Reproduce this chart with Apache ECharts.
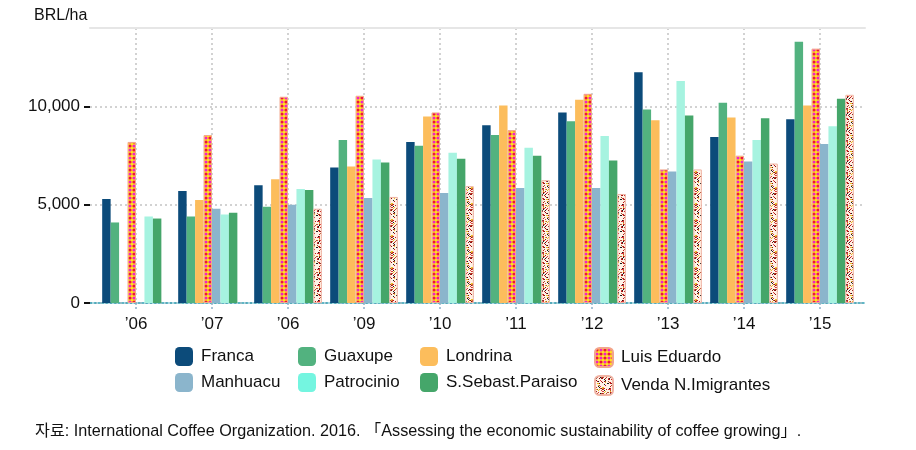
<!DOCTYPE html>
<html>
<head>
<meta charset="utf-8">
<script src="https://cdn.jsdelivr.net/npm/echarts@6/dist/echarts.min.js"></script>
<style>html,body{margin:0;padding:0;background:#fff}#c{width:916px;height:450px}</style>
</head>
<body>
<div id="c"></div>
<script>
const categories = ["\u201906","\u201907","\u201906","\u201909","\u201910","\u201911","\u201912","\u201913","\u201914","\u201915"];
const franca     = [5300,5700,6000,6900,8200,9050,9700,11750,8450,9350];
const guaxupe    = [4100,4400,4900,8300,8000,8550,9250,9850,10200,13300];
const londrina   = [null,5250,6300,6950,9500,10050,10350,9300,9450,10050];
const luis       = [8200,8550,10500,10550,9700,8800,10650,6800,7500,12950];
const manhuacu   = [null,4800,5000,5350,5600,5850,5850,6700,7200,8100];
const patrocinio = [4400,4500,5800,7300,7650,7900,8500,11300,8300,9000];
const sebast     = [4300,4600,5750,7150,7350,7500,7250,9550,9400,10400];
const venda      = [null,null,4800,5400,5950,6250,5550,6800,7100,10600];
const yTicks = [0,5000,10000];
const yName = "BRL/ha";
const source = "\uC790\uB8CC: International Coffee Organization. 2016. \u300CAssessing the economic sustainability of coffee growing\u300D.";

const FONT = 'Arial, "Liberation Sans", "Noto Sans CJK KR", sans-serif';

function luisPattern(){
  const c = document.createElement('canvas'); c.width = 8; c.height = 8;
  const g = c.getContext('2d');
  g.fillStyle = '#ffe61e'; g.fillRect(0,0,8,8);
  const dots = [[2,2,'#ee1040'],[6,2,'#f020c8'],[2,6,'#f020c8'],[6,6,'#ee1040']];
  dots.forEach(d=>{g.fillStyle=d[2]; g.beginPath(); g.arc(d[0],d[1],1.6,0,Math.PI*2); g.fill();});
  return {image:c, repeat:'repeat'};
}
function vendaPattern(){
  const c = document.createElement('canvas'); c.width = 16; c.height = 16;
  const g = c.getContext('2d');
  g.fillStyle = '#fff2e6'; g.fillRect(0,0,16,16);
  const cols = ['#8a1010','#1a1a1a','#e8c020','#d83a3a','#b05030','#c01818'];
  let s = 12345;
  function nx(){ s = (s*1103515245 + 12345) & 0x7fffffff; return s >>> 12; }
  for (let i=0;i<120;i++){
    const x = nx() % 16, y = nx() % 16;
    g.fillStyle = cols[nx() % cols.length];
    g.fillRect(x,y,1,1);
  }
  return {image:c, repeat:'repeat'};
}

const seriesDefs = [
  {name:'Franca', data:franca, color:'#0c4b7a'},
  {name:'Guaxupe', data:guaxupe, color:'#52b27f'},
  {name:'Londrina', data:londrina, color:'#fcbd5c'},
  {name:'Luis Eduardo', data:luis, color:luisPattern(), border:'#f3a58c'},
  {name:'Manhuacu', data:manhuacu, color:'#8bb5cc'},
  {name:'Patrocinio', data:patrocinio, color:'#a6f3e0', legendColor:'#74f5e0'},
  {name:'S.Sebast.Paraiso', data:sebast, color:'#45a66a'},
  {name:'Venda N.Imigrantes', data:venda, color:vendaPattern(), border:'#f0b4a4'}
];

const series = seriesDefs.map(d => ({
  type:'bar', name:d.name, data:d.data, xAxisIndex:2, yAxisIndex:1,
  barGap:'0%', barCategoryGap:'11%',
  itemStyle:{color:d.color, borderColor:d.border||null, borderWidth:d.border?1:0},
  emphasis:{disabled:true}
}));

function legendCol(names, left){
  return {
    orient:'vertical', left:left, top:342, itemWidth:18, itemHeight:19, itemGap:7,
    selectedMode:false,
    textStyle:{fontFamily:FONT, fontSize:17, color:'#111', padding:[0,0,0,3]},
    data:names.map(n=>{
      const d = seriesDefs.find(s=>s.name===n);
      return d.legendColor ? {name:n, itemStyle:{color:d.legendColor}} : {name:n};
    })
  };
}

const option = {
  animation:false,
  textStyle:{fontFamily:FONT},
  grid:[
    {left:90, right:51, top:28, bottom:147},
    {left:98, right:58, top:28, bottom:147}
  ],
  xAxis:[
    {gridIndex:0, type:'value', min:0, max:1, position:'bottom',
     axisLine:{show:true, lineStyle:{color:'#2f9fb4', type:[2,2], width:1.5}},
     axisTick:{show:false}, axisLabel:{show:false}, splitLine:{show:false}},
    {gridIndex:0, type:'value', min:0, max:1, position:'top',
     axisLine:{show:true, lineStyle:{color:'#e6e6e6', width:2}},
     axisTick:{show:false}, axisLabel:{show:false}, splitLine:{show:false}},
    {gridIndex:1, type:'category', data:categories, position:'bottom',
     axisLine:{show:false},
     axisTick:{show:true, alignWithLabel:true, length:7, lineStyle:{color:'#8fb0c8', type:[2,2], width:1.5}},
     axisLabel:{fontFamily:FONT, fontSize:17, color:'#111', margin:13}},
    {gridIndex:1, type:'value', min:0, max:20, interval:1, position:'top',
     axisLine:{show:false}, axisTick:{show:false}, axisLabel:{show:false},
     splitLine:{show:true, lineStyle:{color:['rgba(0,0,0,0)','#c4c4c4'], type:[2,3], width:1.5}}}
  ],
  yAxis:[
    {gridIndex:0, type:'value', min:0, max:14000, interval:5000,
     axisLine:{show:false},
     axisTick:{show:true, length:6, lineStyle:{color:'#111', width:2}, customValues:yTicks},
     axisLabel:{customValues:yTicks, fontFamily:FONT, fontSize:17, color:'#111', margin:10,
       formatter:v=>Number(v).toLocaleString('en-US')},
     splitLine:{show:true, lineStyle:{color:'#c4c4c4', type:[2,3], width:1.5}}},
    {gridIndex:1, type:'value', min:0, max:14000, show:false}
  ],
  legend:[
    legendCol(['Franca','Manhuacu'],170),
    legendCol(['Guaxupe','Patrocinio'],293),
    legendCol(['Londrina','S.Sebast.Paraiso'],415),
    legendCol(['Luis Eduardo','Venda N.Imigrantes'],589)
  ],
  graphic:[
    {type:'text', left:34, top:8, style:{text:yName, font:'16px '+FONT, fill:'#111'}},
    {type:'text', left:35, top:423, style:{text:source, font:'16.2px '+FONT, fill:'#111'}}
  ],
  series:series
};
const chart = echarts.init(document.getElementById('c'), null, {renderer:'canvas'});
chart.setOption(option);
</script>
</body>
</html>
